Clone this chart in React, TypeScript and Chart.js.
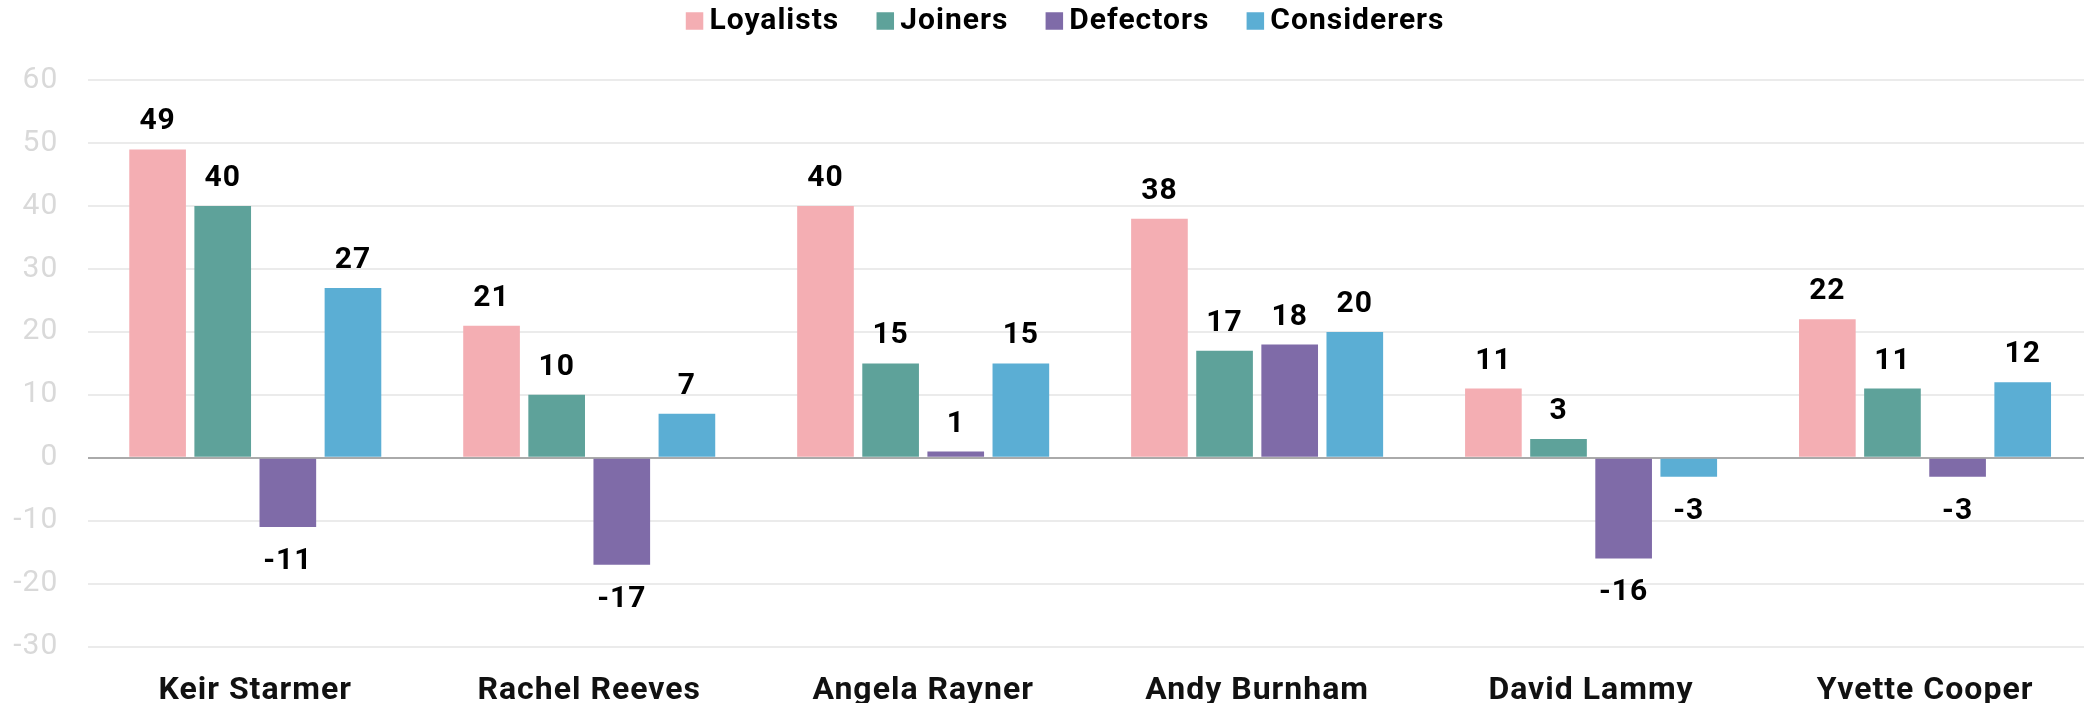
import React, { useEffect, useRef } from "react";
import { Chart, registerables } from "chart.js";

Chart.register(...registerables);

const categories = ["Keir Starmer", "Rachel Reeves", "Angela Rayner", "Andy Burnham", "David Lammy", "Yvette Cooper"];
const loyalists = [49, 21, 40, 38, 11, 22];
const joiners = [40, 10, 15, 17, 3, 11];
const defectors = [-11, -17, 1, 18, -16, -3];
const considerers = [27, 7, 15, 20, -3, 12];
const seriesNames = ["Loyalists", "Joiners", "Defectors", "Considerers"];
const seriesColors = ["#F4AEB3", "#5EA29A", "#7F6BA8", "#5BAED4"];

const W = 2100;
const H = 703;

const spacing = {
  id: "spacing",
  beforeUpdate(chart: any) {
    chart.ctx.letterSpacing = "1px";
  },
  beforeDraw(chart: any) {
    chart.ctx.letterSpacing = "1px";
  },
};

const valueLabels = {
  id: "valueLabels",
  afterDatasetsDraw(chart: any) {
    const ctx = chart.ctx;
    ctx.save();
    ctx.font = "bold 30px Roboto";
    ctx.fillStyle = "#000";
    ctx.textAlign = "center";
    ctx.textBaseline = "alphabetic";
    chart.data.datasets.forEach((ds: any, di: number) => {
      const meta = chart.getDatasetMeta(di);
      meta.data.forEach((bar: any, i: number) => {
        const v = ds.data[i];
        const y = v >= 0 ? bar.y - 20 : bar.y + 42;
        ctx.fillText(String(v), bar.x, y);
      });
    });
    ctx.restore();
  },
};

const legendShift = {
  id: "legendShift",
  afterLayout(chart: any) {
    if (chart.legend) {
      chart.legend.left += 17.5;
      chart.legend.right += 17.5;
    }
  },
};

export default function App() {
  const ref = useRef<HTMLCanvasElement>(null);
  useEffect(() => {
    document.body.style.margin = "0";
    document.body.style.overflow = "hidden";
    const data = [loyalists, joiners, defectors, considerers];
    const chart = new Chart(ref.current!, {
      type: "bar",
      data: {
        labels: categories,
        datasets: seriesNames.map((n, i) => ({
          label: n,
          data: data[i],
          backgroundColor: seriesColors[i],
          categoryPercentage: 0.78,
          barPercentage: 0.87,
        })),
      },
      options: {
        animation: false,
        responsive: false,
        layout: { padding: { left: 12, right: W - 2092, top: -40, bottom: -24 } },
        plugins: {
          legend: {
            position: "top",
            labels: {
              usePointStyle: true,
              pointStyle: "rect",
              boxWidth: 0.01,
              boxHeight: 17.5,
              padding: 46,
              color: "#000",
              font: { family: "Roboto", size: 30, weight: "bold" },
            },
          },
          title: {
            display: true,
            text: "",
            position: "top",
            weight: 500,
            font: { size: 1 },
            padding: { top: 33, bottom: 0 },
          },
          tooltip: { enabled: false },
        },
        scales: {
          x: {
            grid: { display: false },
            border: { display: false },
            ticks: {
              color: "#111",
              padding: 17,
              font: { family: "Roboto", size: 32, weight: "bold" },
            },
          },
          y: {
            min: -30,
            max: 60,
            afterFit: (s: any) => { s.width = 76.3; },
            border: { display: false },
            grid: {
              drawTicks: false,
              lineWidth: 2,
              color: (c: any) => (c.tick && c.tick.value === 0 ? "#aaaaaa" : "#ebebeb"),
            },
            ticks: {
              stepSize: 10,
              padding: 30,
              color: "#d9d9d9",
              font: { family: "Roboto", size: 30 },
            },
          },
        },
      },
      plugins: [spacing, valueLabels, legendShift],
    });
    return () => chart.destroy();
  }, []);
  return (
    <div style={{ position: "fixed", left: 0, top: 0, width: W, height: H }}>
      <canvas ref={ref} width={W} height={H} />
    </div>
  );
}
